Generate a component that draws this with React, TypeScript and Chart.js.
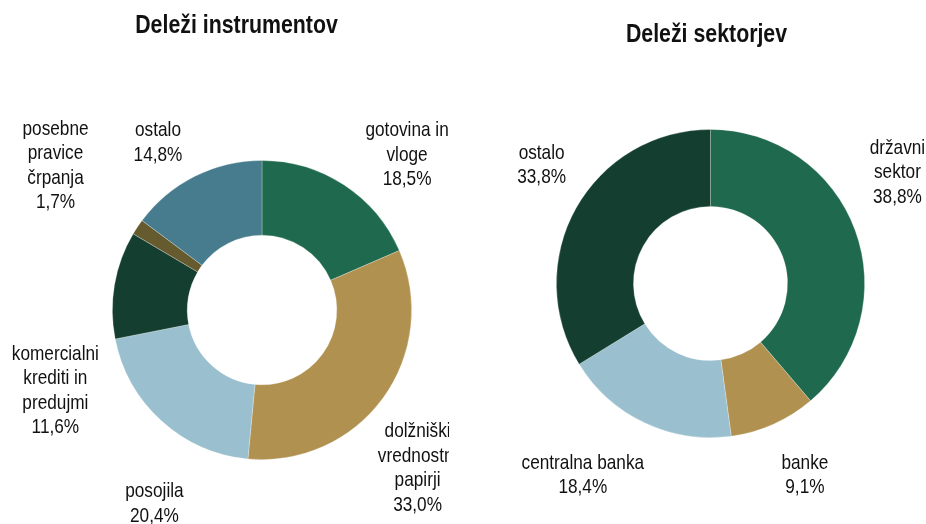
import React, { useEffect, useRef } from "react";
import { Chart, registerables } from "chart.js";

Chart.register(...registerables);

// ---- data ----
const instrumentTitle = "Deleži instrumentov";
const instrumentLabels = [
  ["gotovina in", "vloge"],
  ["dolžniški", "vrednostni", "papirji"],
  ["posojila"],
  ["komercialni", "krediti in", "predujmi"],
  ["posebne", "pravice", "črpanja"],
  ["ostalo"],
];
const instrumentValues = [18.5, 33.0, 20.4, 11.6, 1.7, 14.8];

const sectorTitle = "Deleži sektorjev";
const sectorLabels = [["državni", "sektor"], ["banke"], ["centralna banka"], ["ostalo"]];
const sectorValues = [38.8, 9.1, 18.4, 33.8];

// ---- styles ----
const instrumentColors = ["#1F6A4F", "#B09150", "#9ABFCE", "#143F30", "#665A2F", "#467C8D"];
const sectorColors = ["#1F6A4F", "#B09150", "#9ABFCE", "#143F30"];

// label placement tweaks relative to the radial anchor (text layout only)
const instrumentLabelShift = [
  [30, 20],
  [-14, 35],
  [33, 38],
  [0, 116],
  [-32, -28],
  [-10, 20],
];
const sectorLabelShift = [
  [-14, -37],
  [7, -4],
  [-36, -2],
  [18, -14],
];

const TEXT_COLOR = "#111111";
const LABEL_SIZE = 21;
const LINE_HEIGHT = 24.5;
const TITLE_SIZE = 26;

let narrowAvailable: boolean | null = null;
function checkNarrow(ctx: CanvasRenderingContext2D) {
  if (narrowAvailable !== null) return narrowAvailable;
  ctx.save();
  ctx.font = '21px "Liberation Sans Narrow"';
  const w1 = ctx.measureText("komercialni krediti").width;
  ctx.font = '21px "Liberation Sans"';
  const w2 = ctx.measureText("komercialni krediti").width;
  ctx.restore();
  narrowAvailable = w1 < w2 * 0.9;
  return narrowAvailable;
}

function drawText(
  ctx: CanvasRenderingContext2D,
  text: string,
  x: number,
  y: number,
  size: number,
  bold: boolean,
  baseline: CanvasTextBaseline
) {
  const narrow = checkNarrow(ctx);
  ctx.save();
  ctx.fillStyle = TEXT_COLOR;
  ctx.textAlign = "center";
  ctx.textBaseline = baseline;
  if (narrow) {
    ctx.font = `${bold ? "bold " : ""}${size}px "Liberation Sans Narrow"`;
    ctx.fillText(text, x, y);
  } else {
    ctx.translate(x, y);
    ctx.scale(0.82, 1);
    ctx.font = `${bold ? "bold " : ""}${size}px "Liberation Sans", Arial, sans-serif`;
    ctx.fillText(text, 0, 0);
  }
  ctx.restore();
}

function fmt(v: number) {
  return v.toFixed(1).replace(".", ",") + "%";
}

function makeLabelPlugin(
  id: string,
  labels: string[][],
  values: number[],
  shifts: number[][],
  gap: number,
  title: string,
  titleX: number,
  titleY: number
) {
  return {
    id,
    afterDatasetsDraw(chart: any) {
      const ctx: CanvasRenderingContext2D = chart.ctx;
      const meta = chart.getDatasetMeta(0);
      meta.data.forEach((arc: any, i: number) => {
        const p = arc.getProps(["x", "y", "startAngle", "endAngle", "outerRadius"], true);
        const mid = (p.startAngle + p.endAngle) / 2;
        const d = p.outerRadius + gap;
        const cx = p.x + d * Math.cos(mid) + shifts[i][0];
        const cy = p.y + d * Math.sin(mid) + shifts[i][1];
        const lines = [...labels[i], fmt(values[i])];
        const top = cy - ((lines.length - 1) * LINE_HEIGHT) / 2;
        lines.forEach((ln, k) => drawText(ctx, ln, cx, top + k * LINE_HEIGHT, LABEL_SIZE, false, "middle"));
      });
      drawText(ctx, title, titleX, titleY, TITLE_SIZE, true, "alphabetic");
    },
  };
}

function Doughnut(props: {
  width: number;
  height: number;
  left: number;
  labels: string[][];
  values: number[];
  colors: string[];
  padding: { left: number; right: number; top: number; bottom: number };
  plugin: any;
}) {
  const ref = useRef<HTMLCanvasElement | null>(null);
  useEffect(() => {
    if (!ref.current) return;
    const chart = new Chart(ref.current, {
      type: "doughnut",
      data: {
        labels: props.labels.map((l) => l.join(" ")),
        datasets: [
          {
            data: props.values,
            backgroundColor: props.colors,
            borderColor: "rgba(255,255,255,0.35)",
            borderWidth: 0.75,
          },
        ],
      },
      options: {
        responsive: false,
        animation: false,
        cutout: "50%",
        layout: { padding: props.padding },
        plugins: {
          legend: { display: false },
          title: { display: false },
          tooltip: { enabled: false },
        },
      },
      plugins: [props.plugin],
    } as any);
    return () => chart.destroy();
  }, []);
  return (
    <canvas
      ref={ref}
      width={props.width}
      height={props.height}
      style={{ position: "absolute", left: props.left, top: 0, width: props.width, height: props.height }}
    />
  );
}

const leftPlugin = makeLabelPlugin(
  "instrumentLabels",
  instrumentLabels,
  instrumentValues,
  instrumentLabelShift,
  60,
  instrumentTitle,
  236.5,
  33
);
const rightPlugin = makeLabelPlugin(
  "sectorLabels",
  sectorLabels,
  sectorValues,
  sectorLabelShift,
  60,
  sectorTitle,
  250.5,
  42
);

export default function App() {
  return (
    <div style={{ position: "fixed", left: 0, top: 0, width: 926, height: 524, background: "#fff", overflow: "hidden" }}>
      <Doughnut
        width={449}
        height={524}
        left={0}
        labels={instrumentLabels}
        values={instrumentValues}
        colors={instrumentColors}
        padding={{ left: 112, right: 37, top: 160, bottom: 64 }}
        plugin={leftPlugin}
      />
      <Doughnut
        width={470}
        height={524}
        left={456}
        labels={sectorLabels}
        values={sectorValues}
        colors={sectorColors}
        padding={{ left: 100, right: 61, top: 129, bottom: 86 }}
        plugin={rightPlugin}
      />
    </div>
  );
}
